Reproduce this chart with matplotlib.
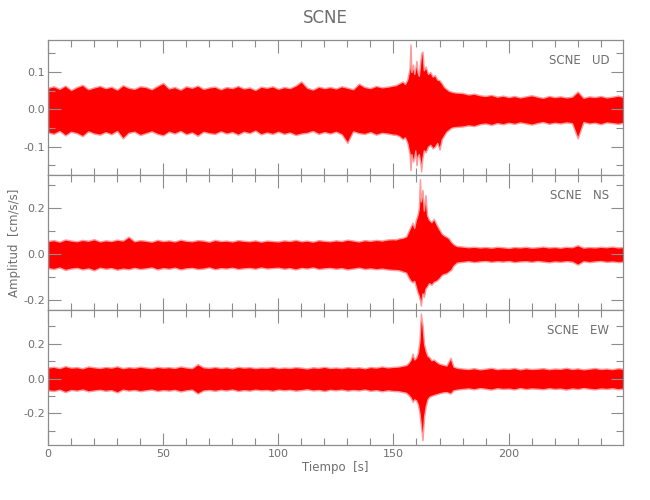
import numpy as np
import matplotlib
matplotlib.use('Agg')
import matplotlib.pyplot as plt
from matplotlib.ticker import MultipleLocator, FormatStrFormatter

plt.rcParams['font.family'] = ['DejaVu Sans']
plt.rcParams['axes.unicode_minus'] = True

# envelopes (cm/s/s) read from the record, pre-event part sampled every 2.5 s
t_pre = np.arange(0, 150.1, 2.5)
t_post = np.arange(180, 250.1, 2.5)

# --- UD ---
ud_pre_up = [0.058, 0.062, 0.055, 0.064, 0.052, 0.060, 0.066, 0.054, 0.059, 0.063,
             0.057, 0.061, 0.053, 0.065, 0.058, 0.055, 0.062, 0.060, 0.054, 0.063,
             0.071, 0.056, 0.060, 0.053, 0.062, 0.058, 0.064, 0.055, 0.059, 0.061,
             0.054, 0.060, 0.057, 0.063, 0.056, 0.059, 0.052, 0.061, 0.058, 0.062,
             0.055, 0.060, 0.057, 0.064, 0.075, 0.058, 0.053, 0.061, 0.057, 0.060,
             0.056, 0.062, 0.058, 0.054, 0.069, 0.060, 0.057, 0.063, 0.059, 0.061,
             0.064]
ud_pre_lo = [-0.062, -0.066, -0.058, -0.070, -0.060, -0.064, -0.072, -0.059, -0.065, -0.068,
             -0.061, -0.067, -0.058, -0.078, -0.063, -0.060, -0.069, -0.064, -0.059, -0.066,
             -0.070, -0.060, -0.065, -0.058, -0.067, -0.062, -0.071, -0.060, -0.064, -0.066,
             -0.059, -0.065, -0.061, -0.068, -0.060, -0.064, -0.057, -0.067, -0.062, -0.066,
             -0.060, -0.066, -0.062, -0.069, -0.065, -0.063, -0.058, -0.066, -0.061, -0.065,
             -0.060, -0.067, -0.090, -0.059, -0.064, -0.066, -0.061, -0.068, -0.063, -0.065,
             -0.068]
ud_ev_t = [151, 152.5, 154, 155, 156, 157, 157.4, 157.8, 158.5, 159, 159.5, 160, 160.5, 161,
           161.6, 162, 162.6, 163.2, 164, 165, 166, 167, 168, 169, 170, 171, 172, 173, 174,
           175, 176, 177.5]
ud_ev_up = [0.065, 0.070, 0.075, 0.068, 0.080, 0.110, 0.174, 0.100, 0.120, 0.095, 0.110,
            0.130, 0.100, 0.090, 0.125, 0.150, 0.155, 0.105, 0.115, 0.095, 0.100, 0.088,
            0.092, 0.080, 0.078, 0.070, 0.060, 0.055, 0.050, 0.048, 0.046, 0.045]
ud_ev_lo = [-0.068, -0.072, -0.080, -0.075, -0.090, -0.120, -0.163, -0.120, -0.140, -0.130,
            -0.110, -0.150, -0.125, -0.120, -0.140, -0.166, -0.130, -0.110, -0.115, -0.100,
            -0.095, -0.105, -0.100, -0.090, -0.108, -0.080, -0.070, -0.060, -0.055, -0.050,
            -0.048, -0.047]
ud_post_up = [0.044, 0.040, 0.042, 0.038, 0.036, 0.039, 0.034, 0.037, 0.033, 0.036,
              0.032, 0.035, 0.038, 0.034, 0.031, 0.036, 0.033, 0.035, 0.032, 0.034,
              0.048, 0.031, 0.035, 0.033, 0.036, 0.032, 0.034, 0.037, 0.033]
ud_post_lo = [-0.046, -0.043, -0.045, -0.040, -0.038, -0.042, -0.037, -0.040, -0.036, -0.039,
              -0.035, -0.038, -0.041, -0.037, -0.034, -0.039, -0.036, -0.038, -0.035, -0.037,
              -0.078, -0.034, -0.038, -0.036, -0.040, -0.035, -0.037, -0.039, -0.036]

# --- NS ---
ns_pre_up = [0.058, 0.062, 0.055, 0.065, 0.060, 0.057, 0.063, 0.059, 0.066, 0.056,
             0.061, 0.058, 0.064, 0.060, 0.077, 0.057, 0.062, 0.059, 0.055, 0.063,
             0.058, 0.061, 0.056, 0.064, 0.059, 0.057, 0.062, 0.060, 0.055, 0.063,
             0.058, 0.060, 0.056, 0.062, 0.059, 0.057, 0.061, 0.055, 0.060, 0.058,
             0.056, 0.061, 0.058, 0.063, 0.057, 0.060, 0.055, 0.062, 0.059, 0.057,
             0.061, 0.058, 0.064, 0.060, 0.056, 0.062, 0.059, 0.063, 0.060, 0.065,
             0.066]
ns_pre_lo = [-0.060, -0.064, -0.057, -0.068, -0.062, -0.059, -0.066, -0.061, -0.070, -0.058,
             -0.063, -0.060, -0.067, -0.062, -0.065, -0.059, -0.064, -0.061, -0.057, -0.066,
             -0.060, -0.063, -0.058, -0.066, -0.061, -0.059, -0.064, -0.062, -0.057, -0.065,
             -0.060, -0.062, -0.058, -0.064, -0.061, -0.059, -0.063, -0.057, -0.062, -0.060,
             -0.058, -0.063, -0.060, -0.066, -0.059, -0.062, -0.057, -0.064, -0.061, -0.059,
             -0.063, -0.060, -0.066, -0.062, -0.058, -0.064, -0.061, -0.065, -0.062, -0.066,
             -0.068]
ns_ev_t = [151, 152.5, 154, 155.5, 156.5, 157.4, 158.3, 159, 159.7, 160.4, 161, 161.5,
           161.9, 162.6, 163.2, 163.9, 164.6, 165.5, 166.5, 167.5, 168.7, 169.8, 171,
           172, 173, 174, 175, 176, 177.5]
ns_ev_up = [0.065, 0.070, 0.072, 0.078, 0.100, 0.120, 0.138, 0.115, 0.150, 0.170, 0.200,
            0.327, 0.230, 0.280, 0.190, 0.258, 0.170, 0.150, 0.140, 0.155, 0.130, 0.110,
            0.090, 0.082, 0.077, 0.070, 0.055, 0.045, 0.036]
ns_ev_lo = [-0.068, -0.070, -0.075, -0.080, -0.100, -0.115, -0.122, -0.115, -0.140, -0.165,
            -0.180, -0.200, -0.223, -0.170, -0.185, -0.150, -0.140, -0.125, -0.133, -0.120,
            -0.115, -0.105, -0.090, -0.085, -0.083, -0.075, -0.068, -0.050, -0.036]
ns_post_up = [0.034, 0.031, 0.033, 0.030, 0.032, 0.029, 0.033, 0.031, 0.028, 0.032,
              0.030, 0.033, 0.029, 0.031, 0.034, 0.030, 0.032, 0.029, 0.033, 0.031,
              0.040, 0.029, 0.032, 0.030, 0.033, 0.031, 0.034, 0.030, 0.032]
ns_post_lo = [-0.033, -0.030, -0.034, -0.031, -0.029, -0.033, -0.030, -0.032, -0.029, -0.034,
              -0.031, -0.030, -0.033, -0.029, -0.032, -0.035, -0.031, -0.033, -0.030, -0.032,
              -0.045, -0.030, -0.034, -0.031, -0.029, -0.033, -0.031, -0.034, -0.032]

# --- EW ---
ew_pre_up = [0.064, 0.068, 0.060, 0.072, 0.063, 0.066, 0.059, 0.070, 0.065, 0.061,
             0.067, 0.063, 0.071, 0.060, 0.066, 0.062, 0.069, 0.064, 0.060, 0.068,
             0.063, 0.066, 0.061, 0.070, 0.064, 0.060, 0.083, 0.065, 0.062, 0.067,
             0.061, 0.065, 0.059, 0.068, 0.063, 0.066, 0.060, 0.064, 0.062, 0.067,
             0.060, 0.064, 0.061, 0.066, 0.063, 0.058, 0.065, 0.062, 0.068, 0.061,
             0.064, 0.060, 0.066, 0.062, 0.065, 0.059, 0.067, 0.063, 0.070, 0.064,
             0.068]
ew_pre_lo = [-0.068, -0.072, -0.064, -0.078, -0.066, -0.070, -0.063, -0.074, -0.069, -0.065,
             -0.071, -0.067, -0.080, -0.064, -0.070, -0.066, -0.073, -0.068, -0.064, -0.072,
             -0.067, -0.070, -0.065, -0.075, -0.068, -0.064, -0.087, -0.069, -0.066, -0.071,
             -0.065, -0.069, -0.063, -0.072, -0.067, -0.070, -0.064, -0.068, -0.066, -0.071,
             -0.064, -0.068, -0.065, -0.070, -0.067, -0.062, -0.069, -0.066, -0.072, -0.065,
             -0.068, -0.064, -0.070, -0.066, -0.069, -0.063, -0.071, -0.067, -0.074, -0.068,
             -0.072]
ew_ev_t = [151, 152.5, 154, 155.5, 156.5, 157.5, 158.3, 159, 159.8, 160.6, 161.3, 161.9,
           162.6, 163.3, 164, 164.8, 165.5, 166.5, 167.5, 168.7, 170, 171.5, 173, 174.8,
           176, 177.5]
ew_ev_up = [0.068, 0.070, 0.074, 0.078, 0.090, 0.110, 0.144, 0.110, 0.120, 0.150, 0.220,
            0.375, 0.310, 0.200, 0.160, 0.130, 0.125, 0.105, 0.110, 0.096, 0.085, 0.080,
            0.075, 0.120, 0.070, 0.062]
ew_ev_lo = [-0.072, -0.074, -0.078, -0.082, -0.095, -0.110, -0.135, -0.120, -0.125, -0.150,
            -0.200, -0.270, -0.356, -0.220, -0.160, -0.120, -0.106, -0.100, -0.095, -0.090,
            -0.085, -0.080, -0.078, -0.087, -0.068, -0.064]
ew_post_up = [0.058, 0.055, 0.060, 0.053, 0.057, 0.062, 0.054, 0.058, 0.056, 0.061,
              0.053, 0.059, 0.055, 0.057, 0.060, 0.054, 0.058, 0.056, 0.062, 0.055,
              0.059, 0.053, 0.057, 0.061, 0.055, 0.058, 0.054, 0.060, 0.056]
ew_post_lo = [-0.060, -0.057, -0.062, -0.055, -0.059, -0.064, -0.056, -0.060, -0.058, -0.063,
              -0.055, -0.061, -0.057, -0.059, -0.062, -0.056, -0.060, -0.058, -0.064, -0.057,
              -0.061, -0.055, -0.059, -0.063, -0.057, -0.060, -0.056, -0.062, -0.058]

station = 'SCNE'
components = ['UD', 'NS', 'EW']

canales = [
    (ud_ev_t, ud_pre_up, ud_pre_lo, ud_ev_up, ud_ev_lo, ud_post_up, ud_post_lo),
    (ns_ev_t, ns_pre_up, ns_pre_lo, ns_ev_up, ns_ev_lo, ns_post_up, ns_post_lo),
    (ew_ev_t, ew_pre_up, ew_pre_lo, ew_ev_up, ew_ev_lo, ew_post_up, ew_post_lo),
]
ylims = [(-0.176, 0.186), (-0.242, 0.345), (-0.383, 0.395)]
ymajor = [0.1, 0.2, 0.2]
yminor = [0.05, 0.1, 0.1]

gris = '#8c8c8c'
texto = '#6e6e6e'

fig = plt.figure(figsize=(6.5, 5), dpi=100)
left, right = 48 / 650, 623.3 / 650
bordes = [40, 175, 310, 445]

axes = []
for i, (ev_t, pre_up, pre_lo, ev_up, ev_lo, post_up, post_lo) in enumerate(canales):
    top = 1 - bordes[i] / 500
    bot = 1 - bordes[i + 1] / 500
    ax = fig.add_axes([left, bot, right - left, top - bot])
    t = np.concatenate([t_pre, ev_t, t_post])
    up = np.concatenate([pre_up, ev_up, post_up])
    lo = np.concatenate([pre_lo, ev_lo, post_lo])
    ax.fill_between(t, lo, up, facecolor='#ff0000', edgecolor='#ff9a9a', linewidth=1.0)
    ax.set_xlim(0, 249.8)
    ax.set_ylim(*ylims[i])
    ax.xaxis.set_major_locator(MultipleLocator(50))
    ax.xaxis.set_minor_locator(MultipleLocator(10))
    ax.yaxis.set_major_locator(MultipleLocator(ymajor[i]))
    ax.yaxis.set_minor_locator(MultipleLocator(yminor[i]))
    ax.yaxis.set_major_formatter(FormatStrFormatter('%.1f'))
    ax.tick_params(which='both', direction='in', top=True, right=True,
                   colors=gris, labelcolor=texto, labelsize=8, pad=3)
    ax.tick_params(which='major', length=9, width=0.8)
    ax.tick_params(which='minor', length=5, width=0.8)
    ax.tick_params(axis='y', pad=2)
    for s in ax.spines.values():
        s.set_color(gris)
        s.set_linewidth(0.9)
    if i < 2:
        ax.tick_params(labelbottom=False)
    ax.text(0.976, 0.845, f'{station}   {components[i]}', transform=ax.transAxes,
            ha='right', va='center', fontsize=8.5, color=texto)
    axes.append(ax)

fig.text(15 / 650, 1 - 242.5 / 500, 'Amplitud  [cm/s/s]', rotation=90,
         ha='center', va='center', fontsize=8.5, color=texto)
axes[2].set_xlabel('Tiempo  [s]', fontsize=8.5, color=texto, labelpad=1)
fig.text(0.5, 1 - 18 / 500, station, ha='center', va='center', fontsize=12, color=texto)

fig.savefig('out.png', dpi=100)
